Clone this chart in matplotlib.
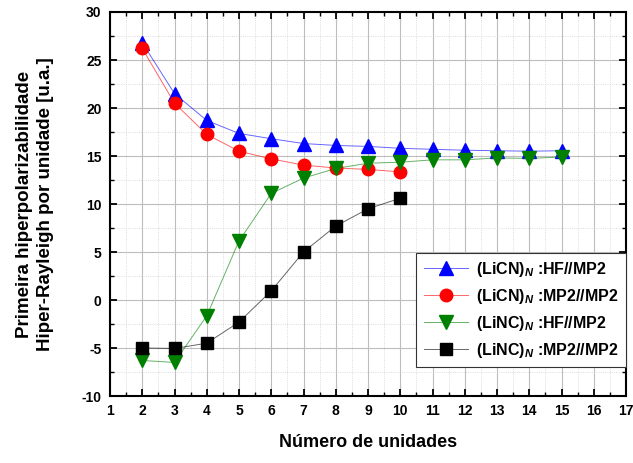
import numpy as np
import matplotlib
matplotlib.use("Agg")
import matplotlib.pyplot as plt
from matplotlib.colors import to_rgba
from matplotlib.ticker import MultipleLocator

plt.rcParams['font.family'] = ['Liberation Sans', 'DejaVu Sans']
plt.rcParams['font.weight'] = 'bold'
plt.rcParams['axes.unicode_minus'] = False
plt.rcParams['mathtext.fontset'] = 'custom'
plt.rcParams['mathtext.it'] = 'Liberation Sans:italic:bold'
plt.rcParams['mathtext.rm'] = 'Liberation Sans:bold'

# Number of units in the chain
n_licn = [2, 3, 4, 5, 6, 7, 8, 9, 10, 11, 12, 13, 14, 15]
n_licn_mp2 = [2, 3, 4, 5, 6, 7, 8, 9, 10]
n_linc = [2, 3, 4, 5, 6, 7, 8, 9, 10, 11, 12, 13, 14, 15]
n_linc_mp2 = [2, 3, 4, 5, 6, 7, 8, 9, 10]

# Hyper-Rayleigh first hyperpolarizability per unit (a.u.)
licn_hf = [26.8, 21.5, 18.7, 17.35, 16.8, 16.3, 16.1, 16.0, 15.8, 15.7, 15.6, 15.55, 15.5, 15.55]
licn_mp2 = [26.2, 20.5, 17.25, 15.5, 14.7, 14.05, 13.75, 13.6, 13.35]
linc_hf = [-6.3, -6.5, -1.65, 6.15, 11.1, 12.7, 13.7, 14.25, 14.35, 14.6, 14.6, 14.8, 14.75, 14.9]
linc_mp2 = [-5.0, -5.05, -4.5, -2.3, 0.95, 5.0, 7.7, 9.5, 10.6]

labels = [r'(LiCN)$_{N}$ :HF//MP2', r'(LiCN)$_{N}$ :MP2//MP2',
          r'(LiNC)$_{N}$ :HF//MP2', r'(LiNC)$_{N}$ :MP2//MP2']

fig = plt.figure(figsize=(6.33, 4.63), dpi=100)
ax = fig.add_axes([110 / 633, 1 - 396 / 463, 516 / 633, 384 / 463])

series = [
    (n_licn, licn_hf, 'blue', '^', 9.5),
    (n_licn_mp2, licn_mp2, 'red', 'o', 9.0),
    (n_linc, linc_hf, 'green', 'v', 9.5),
    (n_linc_mp2, linc_mp2, 'black', 's', 8.0),
]
for (x, y, c, m, ms), lab in zip(series, labels):
    # thin, faded connecting line with solid markers
    ax.plot(x, y, color=to_rgba(c, 0.6), lw=0.7, marker=m, ms=ms,
            mec=c, mfc=c, label=lab, zorder=3)

ax.set_xlim(1, 17)
ax.set_ylim(-10, 30)
ax.xaxis.set_major_locator(MultipleLocator(1))
ax.xaxis.set_minor_locator(MultipleLocator(0.5))
ax.yaxis.set_major_locator(MultipleLocator(5))
ax.yaxis.set_minor_locator(MultipleLocator(2.5))

ax.grid(True, which='major', color='#bdbdbd', lw=0.8, ls='-', zorder=0)
ax.grid(True, which='minor', color='#d0d0d0', lw=0.6, ls=':', zorder=0)
ax.set_axisbelow(True)

ax.tick_params(which='major', direction='in', length=5, width=1.3,
               top=True, right=True, labelsize=10, pad=6)
ax.tick_params(which='minor', direction='in', length=3, width=1.0,
               top=True, right=True)
for lbl in ax.get_xticklabels() + ax.get_yticklabels():
    lbl.set_fontweight('bold')
for s in ax.spines.values():
    s.set_linewidth(1.5)

ax.set_xlabel('Número de unidades', fontsize=13, fontweight='bold', labelpad=11)
ax.set_ylabel('Primeira hiperpolarizabilidade\nHiper-Rayleigh por unidade [u.a.]',
              fontsize=13.5, fontweight='bold', labelpad=20, linespacing=1.3)

leg = ax.legend(loc='lower right', bbox_to_anchor=(1.0, 0.075), fontsize=11.5,
                frameon=True, fancybox=False, edgecolor='#333333', framealpha=1,
                handlelength=2.8, borderpad=0.45, labelspacing=0.5,
                handletextpad=0.5, borderaxespad=0.0)
leg.get_frame().set_linewidth(0.8)

fig.savefig('out.png', dpi=100)
